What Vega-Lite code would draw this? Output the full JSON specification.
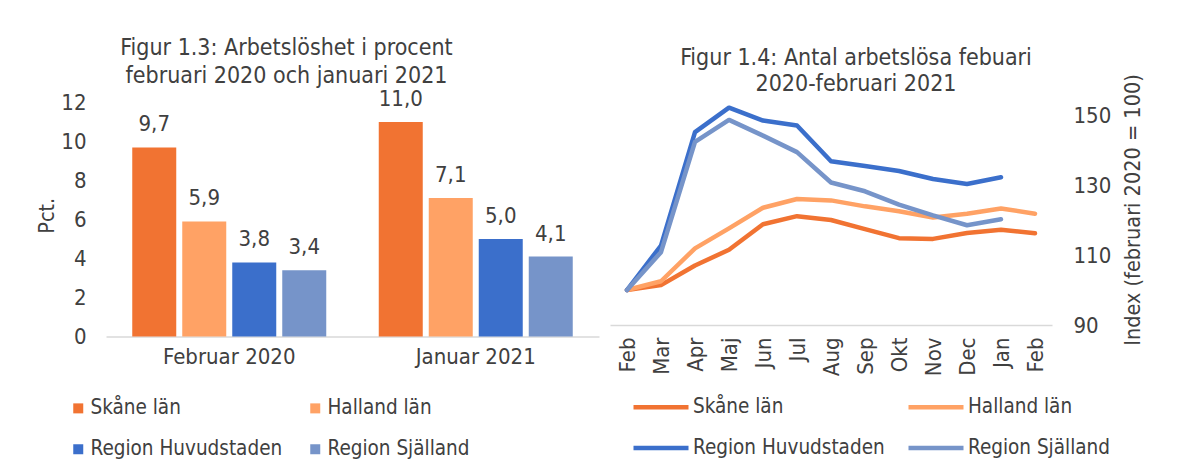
{
  "$schema": "https://vega.github.io/schema/vega-lite/v6.json",
  "background": "white",
  "padding": {"left": 36, "top": 37, "right": 10, "bottom": 5},
  "bounds": "flush",
  "spacing": 11,
  "config": {
    "font": "DejaVu Sans Condensed, Roboto, sans-serif",
    "view": {"stroke": null},
    "locale": {"number": {"decimal": ",", "thousands": " ", "grouping": [3], "currency": ["", ""]}},
    "axis": {"labelColor": "#404040", "titleColor": "#404040", "labelFontSize": 22, "titleFontSize": 21.5, "titleFontWeight": "normal", "grid": false, "ticks": false, "domainColor": "#D9D9D9", "domainWidth": 1.5},
    "title": {"color": "#404040", "fontSize": 23, "fontWeight": "normal", "lineHeight": 28},
    "legend": {"labelColor": "#404040", "labelFontSize": 20.5, "labelLimit": 400}
  },
  "datasets": {
    "bars": [
      {"period": "Februar 2020", "region": "Skåne län", "value": 9.7},
      {"period": "Februar 2020", "region": "Halland län", "value": 5.9},
      {"period": "Februar 2020", "region": "Region Huvudstaden", "value": 3.8},
      {"period": "Februar 2020", "region": "Region Själland", "value": 3.4},
      {"period": "Januar 2021", "region": "Skåne län", "value": 11.0},
      {"period": "Januar 2021", "region": "Halland län", "value": 7.1},
      {"period": "Januar 2021", "region": "Region Huvudstaden", "value": 5.0},
      {"period": "Januar 2021", "region": "Region Själland", "value": 4.1}
    ],
    "lines": [
      {"month": "Feb 2020", "region": "Skåne län", "index": 100},
      {"month": "Mar 2020", "region": "Skåne län", "index": 101.4},
      {"month": "Apr 2020", "region": "Skåne län", "index": 107.0},
      {"month": "Maj 2020", "region": "Skåne län", "index": 111.5},
      {"month": "Jun 2020", "region": "Skåne län", "index": 118.8},
      {"month": "Jul 2020", "region": "Skåne län", "index": 121.1},
      {"month": "Aug 2020", "region": "Skåne län", "index": 120.0},
      {"month": "Sep 2020", "region": "Skåne län", "index": 117.4},
      {"month": "Okt 2020", "region": "Skåne län", "index": 114.8},
      {"month": "Nov 2020", "region": "Skåne län", "index": 114.6},
      {"month": "Dec 2020", "region": "Skåne län", "index": 116.3},
      {"month": "Jan 2021", "region": "Skåne län", "index": 117.2},
      {"month": "Feb 2021", "region": "Skåne län", "index": 116.2},
      {"month": "Feb 2020", "region": "Halland län", "index": 100},
      {"month": "Mar 2020", "region": "Halland län", "index": 102.5},
      {"month": "Apr 2020", "region": "Halland län", "index": 111.9},
      {"month": "Maj 2020", "region": "Halland län", "index": 117.6},
      {"month": "Jun 2020", "region": "Halland län", "index": 123.5},
      {"month": "Jul 2020", "region": "Halland län", "index": 126.0},
      {"month": "Aug 2020", "region": "Halland län", "index": 125.6},
      {"month": "Sep 2020", "region": "Halland län", "index": 123.9},
      {"month": "Okt 2020", "region": "Halland län", "index": 122.5},
      {"month": "Nov 2020", "region": "Halland län", "index": 120.7},
      {"month": "Dec 2020", "region": "Halland län", "index": 121.8},
      {"month": "Jan 2021", "region": "Halland län", "index": 123.3},
      {"month": "Feb 2021", "region": "Halland län", "index": 121.8},
      {"month": "Feb 2020", "region": "Region Huvudstaden", "index": 100},
      {"month": "Mar 2020", "region": "Region Huvudstaden", "index": 112.7},
      {"month": "Apr 2020", "region": "Region Huvudstaden", "index": 145.1},
      {"month": "Maj 2020", "region": "Region Huvudstaden", "index": 152.1},
      {"month": "Jun 2020", "region": "Region Huvudstaden", "index": 148.4},
      {"month": "Jul 2020", "region": "Region Huvudstaden", "index": 147.0},
      {"month": "Aug 2020", "region": "Region Huvudstaden", "index": 136.8},
      {"month": "Sep 2020", "region": "Region Huvudstaden", "index": 135.4},
      {"month": "Okt 2020", "region": "Region Huvudstaden", "index": 134.0},
      {"month": "Nov 2020", "region": "Region Huvudstaden", "index": 131.7},
      {"month": "Dec 2020", "region": "Region Huvudstaden", "index": 130.3},
      {"month": "Jan 2021", "region": "Region Huvudstaden", "index": 132.2},
      {"month": "Feb 2020", "region": "Region Själland", "index": 100},
      {"month": "Mar 2020", "region": "Region Själland", "index": 110.8},
      {"month": "Apr 2020", "region": "Region Själland", "index": 142.3},
      {"month": "Maj 2020", "region": "Region Själland", "index": 148.6},
      {"month": "Jun 2020", "region": "Region Själland", "index": 144.1},
      {"month": "Jul 2020", "region": "Region Själland", "index": 139.4},
      {"month": "Aug 2020", "region": "Region Själland", "index": 130.7},
      {"month": "Sep 2020", "region": "Region Själland", "index": 128.2},
      {"month": "Okt 2020", "region": "Region Själland", "index": 124.4},
      {"month": "Nov 2020", "region": "Region Själland", "index": 121.3},
      {"month": "Dec 2020", "region": "Region Själland", "index": 118.5},
      {"month": "Jan 2021", "region": "Region Själland", "index": 120.2}
    ]
  },
  "resolve": {"scale": {"color": "independent"}, "legend": {"color": "independent"}},
  "hconcat": [
    {
      "width": 493,
      "height": 242.5,
      "title": {"text": ["Figur 1.3: Arbetslöshet i procent", "februari 2020 och januari 2021"], "dx": -66, "offset": 0},
      "data": {"name": "bars"},
      "encoding": {
        "x": {"field": "period", "type": "nominal", "sort": null, "scale": {"paddingInner": 0, "paddingOuter": 0}, "axis": {"title": null, "labelAngle": 0, "labelPadding": 10}},
        "xOffset": {"field": "region", "type": "nominal", "sort": ["Skåne län", "Halland län", "Region Huvudstaden", "Region Själland"], "scale": {"paddingInner": 0.12, "paddingOuter": 0.525}},
        "y": {"field": "value", "type": "quantitative", "scale": {"domain": [0, 12.44], "nice": false}, "axis": {"values": [0, 2, 4, 6, 8, 10, 12], "title": "Pct.", "domain": false, "labelPadding": 20, "titlePadding": 2}}
      },
      "layer": [
        {
          "mark": {"type": "bar"},
          "encoding": {
            "color": {"field": "region", "type": "nominal", "sort": ["Skåne län", "Halland län", "Region Huvudstaden", "Region Själland"],
              "scale": {"domain": ["Skåne län", "Halland län", "Region Huvudstaden", "Region Själland"], "range": ["#F17332", "#FFA265", "#3B6FCB", "#7694C9"]},
              "legend": {"title": null, "orient": "none", "legendX": -38, "legendY": 304, "direction": "horizontal", "columns": 2, "symbolType": "square", "symbolSize": 100, "symbolStrokeWidth": 0, "labelOffset": 2, "columnPadding": 22, "rowPadding": 20}}
          }
        },
        {
          "mark": {"type": "text", "baseline": "bottom", "dy": -11, "fontSize": 22, "color": "#404040"},
          "encoding": {"text": {"field": "value", "type": "quantitative", "format": ".1f"}}
        }
      ]
    },
    {
      "width": 442,
      "height": 231,
      "title": {"text": ["Figur 1.4: Antal arbetslösa febuari", "2020-februari 2021"], "dx": 25, "offset": -22, "lineHeight": 26},
      "data": {"name": "lines"},
      "mark": {"type": "line", "strokeWidth": 4.5, "strokeCap": "round", "strokeJoin": "round"},
      "encoding": {
        "x": {"field": "month", "type": "ordinal", "sort": null, "scale": {"type": "point", "padding": 0.5}, "axis": {"title": null, "labelAngle": -90, "labelExpr": "split(datum.label, ' ')[0]", "labelPadding": 12}},
        "y": {"field": "index", "type": "quantitative", "scale": {"domain": [90, 156], "nice": false, "zero": false}, "axis": {"orient": "right", "values": [90, 110, 130, 150], "domain": false, "title": "Index (februari 2020 = 100)", "titleAngle": 270, "titleBaseline": "top", "labelPadding": 21, "titlePadding": 12}},
        "color": {"field": "region", "type": "nominal", "sort": ["Skåne län", "Halland län", "Region Huvudstaden", "Region Själland"],
          "scale": {"domain": ["Skåne län", "Halland län", "Region Huvudstaden", "Region Själland"], "range": ["#F17332", "#FFA265", "#3B6FCB", "#7694C9"]},
          "legend": {"title": null, "orient": "none", "legendX": 21, "legendY": 283, "direction": "horizontal", "columns": 2, "symbolType": "stroke", "symbolSize": 3025, "symbolStrokeWidth": 4.5, "labelOffset": 2, "columnPadding": 14, "rowPadding": -25}}
      }
    }
  ]
}
